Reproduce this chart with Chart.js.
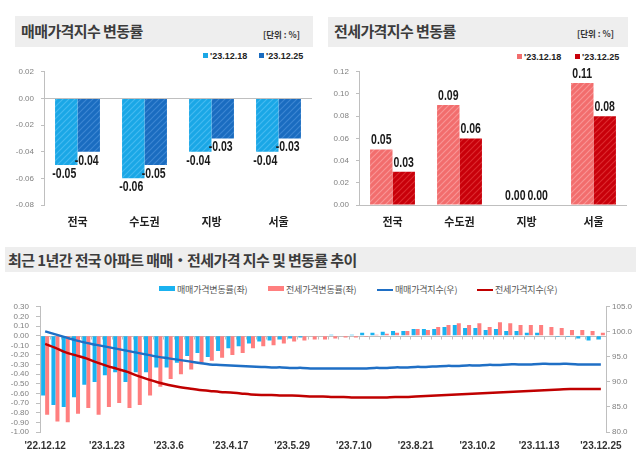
<!DOCTYPE html>
<html>
<head>
<meta charset="utf-8">
<script src="https://cdn.jsdelivr.net/npm/chart.js@4.4.1/dist/chart.umd.min.js"></script>
<style>
  body { margin: 0; background: #fff; }
  #page { position: relative; width: 640px; height: 458px; overflow: hidden; font-family: "Noto Sans CJK KR", sans-serif; }
  .bar { position: absolute; background: #eeeeee; }
  .title { position: absolute; font-weight: bold; color: #3c3c3c; font-size: 15px; letter-spacing: -0.6px; white-space: nowrap; }
  .unit { position: absolute; font-weight: bold; color: #333; font-size: 8.5px; white-space: nowrap; }
  .leg { position: absolute; font: bold 9px "Liberation Sans", Arial, sans-serif; color: #222; white-space: nowrap; }
  .leg i { display: inline-block; width: 5px; height: 5px; margin-right: 2px; vertical-align: 1px; }
  .leg2 { position: absolute; font-size: 9px; color: #555; white-space: nowrap; letter-spacing: -0.2px; }
  .leg2 i { display: inline-block; width: 16px; margin-right: 2px; vertical-align: 2px; }
  canvas { position: absolute; }
</style>
</head>
<body>
<div id="page">
  <div class="bar" style="left:15px;top:16px;width:298px;height:31px"></div>
  <div class="title" style="left:21px;top:20px">매매가격지수 변동률</div>
  <div class="unit" style="left:263px;top:28px">[단위 : %]</div>
  <div class="leg" style="left:203px;top:51px"><i style="background:#1aa7e6"></i>'23.12.18</div>
  <div class="leg" style="left:259px;top:51px"><i style="background:#1a6cc0"></i>'23.12.25</div>

  <div class="bar" style="left:328px;top:17px;width:300px;height:30px"></div>
  <div class="title" style="left:334px;top:20px">전세가격지수 변동률</div>
  <div class="unit" style="left:577px;top:27px">[단위 : %]</div>
  <div class="leg" style="left:517px;top:52px"><i style="background:#f26d6d"></i>'23.12.18</div>
  <div class="leg" style="left:575px;top:52px"><i style="background:#c8000a"></i>'23.12.25</div>

  <div class="bar" style="left:5px;top:247px;width:631px;height:25px"></div>
  <div class="title" style="left:8px;top:249px">최근 1년간 전국 아파트 매매・전세가격 지수 및 변동률 추이</div>
  <div class="leg2" style="left:159px;top:283px"><i style="height:5px;background:#1ab2f0"></i>매매가격변동률(좌)</div>
  <div class="leg2" style="left:268px;top:283px"><i style="height:5px;background:#ff7f7f"></i>전세가격변동률(좌)</div>
  <div class="leg2" style="left:377px;top:283px"><i style="height:2px;background:#1f6fc5"></i>매매가격지수(우)</div>
  <div class="leg2" style="left:477px;top:283px"><i style="height:2px;background:#c00000"></i>전세가격지수(우)</div>

  <canvas id="c1" width="320" height="175" style="left:0;top:60px"></canvas>
  <canvas id="c2" width="320" height="175" style="left:320px;top:60px"></canvas>
  <canvas id="c3" width="640" height="163" style="left:0;top:295px"></canvas>
</div>
<script>
// top charts
const regions = ["전국", "수도권", "지방", "서울"];
const saleDec18 = [-0.05, -0.06, -0.04, -0.04];
const saleDec25 = [-0.04, -0.05, -0.03, -0.03];
const jeonseDec18 = [0.05, 0.09, 0.00, 0.11];
const jeonseDec25 = [0.03, 0.06, 0.00, 0.08];

// bottom chart, weekly from '22.12.12 to '23.12.25
const saleRate = [
  -0.62, -0.72, -0.74, -0.64, -0.51, -0.48, -0.41, -0.38, -0.48, -0.38,
  -0.38, -0.33, -0.33, -0.28, -0.21, -0.18, -0.22, -0.16, -0.13, -0.11,
  -0.08, -0.06, -0.05, -0.04, -0.03, -0.02, 0.00, 0.00, 0.01, 0.00,
  0.01, 0.03, 0.03, 0.04, 0.05, 0.05, 0.07, 0.07, 0.07, 0.09,
  0.11, 0.08, 0.08, 0.06, 0.07, 0.05, 0.05, 0.03, 0.03, 0.00,
  -0.01, -0.01, -0.03, -0.05, -0.04
];
const jeonseRate = [
  -0.82, -0.89, -0.90, -0.81, -0.75, -0.82, -0.74, -0.70, -0.75, -0.72,
  -0.62, -0.53, -0.45, -0.40, -0.35, -0.28, -0.26, -0.23, -0.20, -0.18,
  -0.13, -0.11, -0.10, -0.08, -0.06, -0.05, -0.04, -0.04, -0.03, -0.02,
  -0.02, -0.01, 0.01, 0.02, 0.03, 0.05, 0.07, 0.06, 0.09, 0.11,
  0.13, 0.11, 0.13, 0.09, 0.14, 0.13, 0.11, 0.11, 0.11, 0.09,
  0.08, 0.06, 0.06, 0.05, 0.03
];
const saleIndex = [
  100.1, 99.5, 98.9, 98.3, 97.8, 97.4, 97.0, 96.6, 96.2, 95.8,
  95.4, 95.0, 94.7, 94.4, 94.1, 93.8, 93.5, 93.4, 93.3, 93.2,
  93.1, 93.0, 92.9, 92.9, 92.8, 92.8, 92.7, 92.7, 92.7, 92.7,
  92.7, 92.7, 92.8, 92.8, 92.9, 92.9, 93.0, 93.0, 93.1, 93.2,
  93.2, 93.3, 93.3, 93.4, 93.4, 93.5, 93.5, 93.5, 93.6, 93.6,
  93.6, 93.6, 93.5, 93.5, 93.5
];
const jeonseIndex = [
  97.6, 96.8, 95.9, 95.3, 94.7, 93.9, 93.2, 92.6, 92.0, 91.2,
  90.5, 89.9, 89.4, 89.0, 88.7, 88.4, 88.2, 88.0, 87.9, 87.7,
  87.5, 87.4, 87.4, 87.3, 87.3, 87.2, 87.1, 87.1, 87.0, 87.0,
  86.9, 86.9, 86.9, 86.9, 87.0, 87.0, 87.1, 87.2, 87.3, 87.4,
  87.5, 87.6, 87.7, 87.8, 87.9, 88.0, 88.1, 88.2, 88.3, 88.4,
  88.5, 88.6, 88.6, 88.6, 88.6
];

// week labels like '23.1.23
const weeks = [];
let d = new Date(2022, 11, 12);
for (let i = 0; i < saleRate.length; i++) {
  weeks.push("'" + String(d.getFullYear()).slice(2) + "." + (d.getMonth() + 1) + "." + d.getDate());
  d.setDate(d.getDate() + 7);
}

const numFont = '"Liberation Sans", Arial, sans-serif';
const tickGray = "#808080";
const lineGray = "#bfbfbf";

// diagonal hatch fill
const hatch = (base, stripe) => {
  const c = document.createElement("canvas");
  c.width = 6; c.height = 6;
  const x = c.getContext("2d");
  x.fillStyle = base;
  x.fillRect(0, 0, 6, 6);
  x.strokeStyle = stripe;
  x.lineWidth = 1.2;
  x.beginPath();
  x.moveTo(-1, 7); x.lineTo(7, -1);
  x.moveTo(-4, 4); x.lineTo(4, -4);
  x.moveTo(2, 10); x.lineTo(10, 2);
  x.stroke();
  return x.createPattern(c, "repeat");
};

// value labels at bar ends (narrow bold figures)
const valueLabels = {
  id: "valueLabels",
  afterDatasetsDraw(chart) {
    const ctx = chart.ctx;
    chart.data.datasets.forEach((ds, di) => {
      chart.getDatasetMeta(di).data.forEach((bar, i) => {
        const v = ds.data[i];
        ctx.save();
        ctx.font = "bold 14px " + numFont;
        ctx.fillStyle = "#1a1a1a";
        ctx.textAlign = "center";
        if (v < 0) {
          ctx.textBaseline = "top";
          ctx.translate(bar.x - 2, bar.y + 2);
        } else {
          ctx.textBaseline = "bottom";
          ctx.translate(bar.x, bar.y - 2);
        }
        ctx.scale(0.75, 1);
        ctx.fillText(v.toFixed(2), 0, 0);
        ctx.restore();
      });
    });
  }
};

const isZero = (v) => Math.abs(v) < 1e-9;

const topChart = (id, a, b, colA, colB, min, max, yWidth, padRight, padTop) => new Chart(document.getElementById(id), {
  type: "bar",
  plugins: [valueLabels],
  data: {
    labels: regions,
    datasets: [
      { data: a, backgroundColor: colA, categoryPercentage: 0.67, barPercentage: 1 },
      { data: b, backgroundColor: colB, categoryPercentage: 0.67, barPercentage: 1 },
    ],
  },
  options: {
    responsive: false,
    animation: false,
    layout: { padding: { top: padTop, right: padRight, left: 0, bottom: 0 } },
    plugins: { legend: { display: false }, tooltip: { enabled: false } },
    scales: {
      x: {
        grid: { display: false, drawTicks: false },
        border: { display: false },
        ticks: { padding: 10, color: "#222", font: { family: "Noto Sans CJK KR", size: 11, weight: "bold" } },
        afterFit: (s) => { s.height = 30; },
      },
      y: {
        min: min, max: max,
        border: { color: lineGray },
        grid: { color: (c) => isZero(c.tick.value) ? lineGray : "transparent", tickColor: lineGray, tickLength: 3 },
        ticks: { autoSkip: false, stepSize: 0.02, padding: 7, color: tickGray, font: { family: numFont, size: 8 }, callback: (v) => v.toFixed(2) },
        afterFit: (s) => { s.width = yWidth; },
      },
    },
  },
});

topChart("c1", saleDec18, saleDec25, hatch("#1aa7e6", "#45baf0"), hatch("#1a6cc0", "#3d86d2"), -0.08, 0.02, 44, 8, 11);
topChart("c2", jeonseDec18, jeonseDec25, hatch("#f26d6d", "#f89595"), hatch("#c8000a", "#dc2a2f"), 0, 0.12, 39, 13, 9);

// zero line with weekly tick marks
const zeroAxis = {
  id: "zeroAxis",
  beforeDatasetsDraw(chart) {
    const { ctx, chartArea: area, scales: { x, y } } = chart;
    const y0 = Math.round(y.getPixelForValue(0)) + 0.5;
    const step = x.getPixelForValue(1) - x.getPixelForValue(0);
    ctx.save();
    ctx.strokeStyle = lineGray;
    ctx.lineWidth = 1;
    ctx.beginPath();
    ctx.moveTo(area.left, y0);
    ctx.lineTo(area.right, y0);
    for (let i = 0; i <= chart.data.labels.length; i++) {
      const px = Math.round(x.getPixelForValue(0) - step / 2 + i * step) + 0.5;
      ctx.moveTo(px, y0);
      ctx.lineTo(px, y0 + 3);
    }
    ctx.stroke();
    ctx.restore();
  }
};

new Chart(document.getElementById("c3"), {
  type: "bar",
  plugins: [zeroAxis],
  data: {
    labels: weeks,
    datasets: [
      { label: "매매가격변동률(좌)", data: saleRate, backgroundColor: "#1ab2f0", categoryPercentage: 0.78, barPercentage: 1, yAxisID: "y", order: 2 },
      { label: "전세가격변동률(좌)", data: jeonseRate, backgroundColor: "#ff7f7f", categoryPercentage: 0.78, barPercentage: 1, yAxisID: "y", order: 2 },
      { type: "line", label: "매매가격지수(우)", data: saleIndex, borderColor: "#1f6fc5", borderWidth: 2.5, pointRadius: 0, tension: 0.4, yAxisID: "y2", order: 1 },
      { type: "line", label: "전세가격지수(우)", data: jeonseIndex, borderColor: "#c00000", borderWidth: 2.5, pointRadius: 0, tension: 0.4, yAxisID: "y2", order: 1 },
    ],
  },
  options: {
    responsive: false,
    animation: false,
    layout: { padding: { top: 8, right: 0, left: 0, bottom: 0 } },
    plugins: { legend: { display: false }, tooltip: { enabled: false } },
    scales: {
      x: {
        grid: { display: false, drawTicks: false },
        border: { display: false },
        ticks: {
          autoSkip: false, maxRotation: 0, padding: 8, color: "#333",
          font: { family: numFont, size: 10, weight: "bold" },
          callback: (v, i) => i % 6 === 0 ? weeks[i] : "",
        },
        afterFit: (s) => { s.height = 26; },
      },
      y: {
        position: "left",
        min: -1.0, max: 0.3,
        border: { color: lineGray },
        grid: { color: "transparent", tickColor: lineGray, tickLength: 4 },
        ticks: { autoSkip: false, stepSize: 0.1, padding: 7, color: tickGray, font: { family: numFont, size: 8 }, callback: (v) => v.toFixed(2) },
        afterFit: (s) => { s.width = 40; },
      },
      y2: {
        position: "right",
        min: 80, max: 105,
        border: { color: lineGray },
        grid: { drawOnChartArea: false, tickColor: lineGray, tickLength: 4 },
        ticks: { autoSkip: false, stepSize: 5, padding: 2, color: tickGray, font: { family: numFont, size: 8 }, callback: (v) => v.toFixed(1) },
        afterFit: (s) => { s.width = 34; },
      },
    },
  },
});
</script>
</body>
</html>
